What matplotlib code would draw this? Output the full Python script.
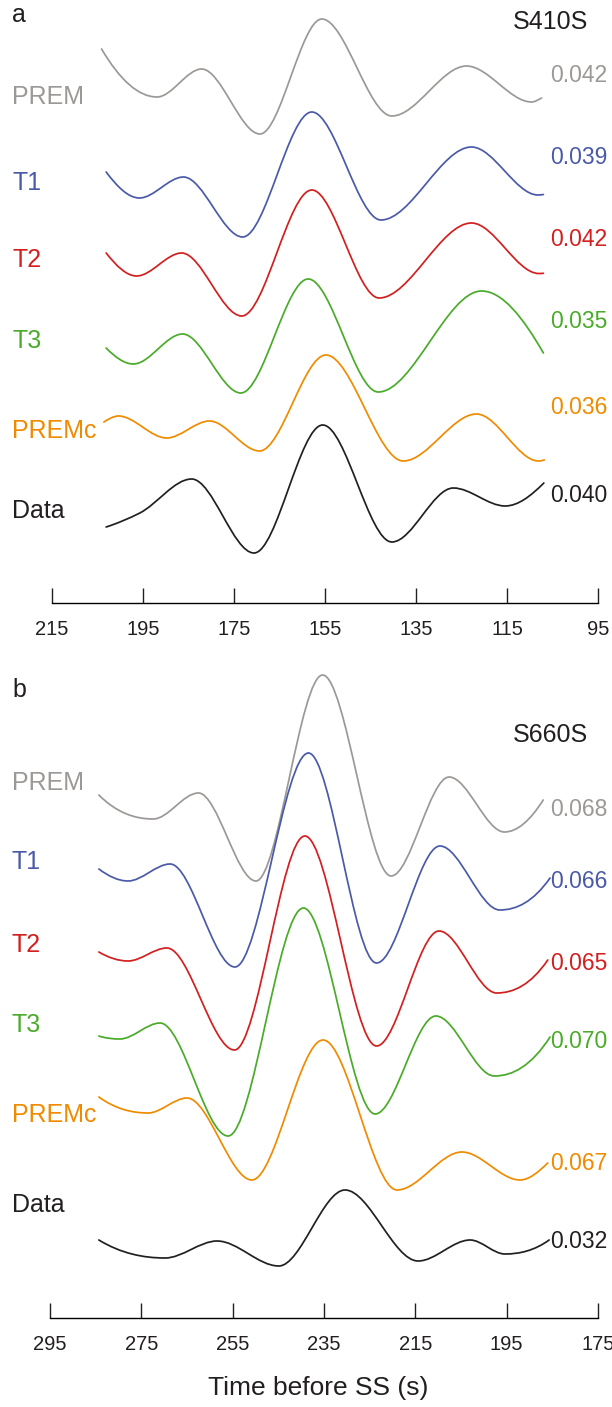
import numpy as np
import matplotlib
matplotlib.use("Agg")
import matplotlib.pyplot as plt
from matplotlib.path import Path
from matplotlib.patches import PathPatch

plt.rcParams['font.family'] = ['Liberation Sans', 'DejaVu Sans']

# ---------------- data ----------------
trace_names = ["PREM", "T1", "T2", "T3", "PREMc", "Data"]
trace_colors = ["#9c9896", "#4a5aa8", "#d31f1f", "#4aab2a", "#f08b00", "#231f20"]

# Panel a (S410S): times (s before SS) and relative amplitudes
a_ticks = [215, 195, 175, 155, 135, 115, 95]
a_misfit = ["0.042", "0.039", "0.042", "0.035", "0.036", "0.040"]

a_prem_t = [204.1, 191.9, 182.1, 169.3, 155.7, 140.3, 123.9, 109.6, 107.4]
a_prem_v = [48, 0, 28, -37, 78, -19, 31, -5, -1]

a_t1_t = [203.1, 195.8, 186.1, 173.1, 157.9, 142.7, 122.8, 108.2, 107.0]
a_t1_v = [11, -15, 6, -54, 71, -37, 36, -12, -11.5]

a_t2_t = [203.1, 196.4, 186.5, 173.3, 157.9, 143.1, 122.8, 108.0, 107.0]
a_t2_v = [7, -16, 7, -56, 70, -38, 37, -13.5, -13.3]

a_t3_t = [203.1, 197.1, 186.3, 173.5, 158.7, 143.3, 120.6, 107.0]
a_t3_v = [-7, -23, 7, -52, 62, -51, 50, -12]

a_premc_t = [203.6, 200.4, 189.8, 180.4, 169.4, 154.8, 137.8, 121.7, 108.1, 106.8]
a_premc_v = [9, 15, -7, 10, -20, 76, -30, 17, -30, -29]

a_data_t = [203.1, 195.7, 184.3, 170.6, 155.5, 140.3, 126.8, 115.4, 106.9]
a_data_v = [-16, -2, 32, -42, 86, -31, 23, 5, 28]

# Panel b (S660S)
b_ticks = [295, 275, 255, 235, 215, 195, 175]
b_misfit = ["0.068", "0.066", "0.065", "0.070", "0.067", "0.032"]

b_prem_t = [284.3, 272.4, 262.5, 249.9, 235.3, 220.3, 207.6, 195.5, 187.0]
b_prem_v = [-12, -36, -10, -98, 108, -93, 6, -49, -17]

b_t1_t = [284.3, 277.9, 268.7, 254.5, 238.4, 223.5, 209.6, 196.5, 185.5]
b_t1_v = [-7, -19, -2, -105, 109, -101, 16, -48, -16]

b_t2_t = [284.3, 277.9, 269.4, 254.6, 239.2, 223.5, 209.8, 197.2, 186.0]
b_t2_v = [-7, -16, -3, -105, 109, -101, 14, -48, -15]

b_t3_t = [284.3, 279.7, 270.9, 256.0, 239.5, 223.8, 210.5, 197.7, 185.5]
b_t3_v = [-11, -14, 2, -111, 117, -89, 9, -51, -12]

b_premc_t = [284.3, 273.5, 265.0, 250.8, 235.2, 219.0, 204.8, 192.1, 186.0]
b_premc_v = [18, 2, 17, -65, 75, -75, -37, -65, -48]

b_data_t = [284.3, 269.8, 258.4, 244.9, 230.4, 214.4, 203.0, 195.4, 185.7]
b_data_v = [-35, -53, -36, -61, 15, -56, -35, -49, -35]

# ---------------- layout constants (pixels) ----------------
W, H = 612, 1407
a_base = [97, 183, 260, 341, 431, 511]
a_val_y = [76, 157, 239, 322, 408, 496]
b_base = [783, 862, 945, 1025, 1115, 1205]
b_val_y = [810, 882, 963, 1041, 1163, 1241]


def smooth_path(t, v):
    """Cubic Bezier path through the points with monotone (PCHIP-style) tangents."""
    x = np.asarray(t, float)
    y = np.asarray(v, float)
    h = np.diff(x)
    d = np.diff(y) / h
    n = len(x)
    m = np.zeros(n)
    for k in range(1, n - 1):
        if d[k - 1] * d[k] <= 0:
            m[k] = 0.0
        else:
            w1 = 2 * h[k] + h[k - 1]
            w2 = h[k] + 2 * h[k - 1]
            m[k] = (w1 + w2) / (w1 / d[k - 1] + w2 / d[k])

    def end(h0, h1, d0, d1):
        s = ((2 * h0 + h1) * d0 - h0 * d1) / (h0 + h1)
        if np.sign(s) != np.sign(d0):
            return 0.0
        if np.sign(d0) != np.sign(d1) and abs(s) > 3 * abs(d0):
            return 3 * d0
        return s

    m[0] = end(h[0], h[1], d[0], d[1])
    m[-1] = end(h[-1], h[-2], d[-1], d[-2])
    verts = [(x[0], y[0])]
    codes = [Path.MOVETO]
    for k in range(n - 1):
        hk = h[k]
        verts += [(x[k] + hk / 3, y[k] + m[k] * hk / 3),
                  (x[k + 1] - hk / 3, y[k + 1] - m[k + 1] * hk / 3),
                  (x[k + 1], y[k + 1])]
        codes += [Path.CURVE4] * 3
    return Path(verts, codes)


fig = plt.figure(figsize=(W / 100, H / 100), dpi=100)


def panel(top_px, bottom_px, x0_px, x1_px, t0, t1, ticks, traces, bases, vals_y,
          misfits, letter, letter_y, phase, phase_y):
    ax = fig.add_axes([0, 1 - bottom_px / H, 1, (bottom_px - top_px) / H])
    sc = (x1_px - x0_px) / (t0 - t1)
    ax.set_xlim(t0 + x0_px / sc, t0 - (W - x0_px) / sc)
    ax.set_ylim(bottom_px, top_px)
    for sp in ["left", "right", "top"]:
        ax.spines[sp].set_visible(False)
    ax.spines["bottom"].set_bounds(min(ticks), max(ticks))
    ax.spines["bottom"].set_linewidth(1.0)
    ax.set_yticks([])
    ax.set_xticks(ticks)
    ax.set_xticklabels([str(k) for k in ticks], fontsize=14.5)
    ax.tick_params(axis="x", direction="in", length=11, width=1.0, pad=12,
                   colors="#231f20")
    for (tt, vv), base, vy, mf, name, col in zip(traces, bases, vals_y, misfits,
                                                 trace_names, trace_colors):
        yy = [base - a for a in vv]
        ax.add_patch(PathPatch(smooth_path(tt, yy), facecolor="none",
                               edgecolor=col, lw=1.25, capstyle="round"))
        ax.text(t0 + (x0_px - 12) / sc, base, name, color=col, fontsize=18,
                ha="left", va="center")
        ax.text(t0 - (550 - x0_px) / sc, vy, mf, color=col, fontsize=16.5,
                ha="left", va="center")
    ax.text(t0 + (x0_px - 12) / sc, letter_y, letter,
            fontsize=18, ha="left", va="center", color="#231f20")
    ax.text(t0 - (588 - x0_px) / sc, phase_y, phase, fontsize=18, ha="right",
            va="center", color="#231f20")
    return ax


traces_a = [(a_prem_t, a_prem_v), (a_t1_t, a_t1_v), (a_t2_t, a_t2_v),
            (a_t3_t, a_t3_v), (a_premc_t, a_premc_v), (a_data_t, a_data_v)]
traces_b = [(b_prem_t, b_prem_v), (b_t1_t, b_t1_v), (b_t2_t, b_t2_v),
            (b_t3_t, b_t3_v), (b_premc_t, b_premc_v), (b_data_t, b_data_v)]

panel(0, 603, 52, 598, 215, 95, a_ticks, traces_a, a_base, a_val_y, a_misfit,
      "a", 15, "S410S", 22)
panel(640, 1318, 50, 598, 295, 175, b_ticks, traces_b, b_base, b_val_y, b_misfit,
      "b", 690, "S660S", 735)

fig.text(318 / W, 1 - 1388 / H, "Time before SS (s)", fontsize=19, ha="center",
         va="center", color="#231f20")

fig.savefig("out.png", dpi=100, facecolor="white")
